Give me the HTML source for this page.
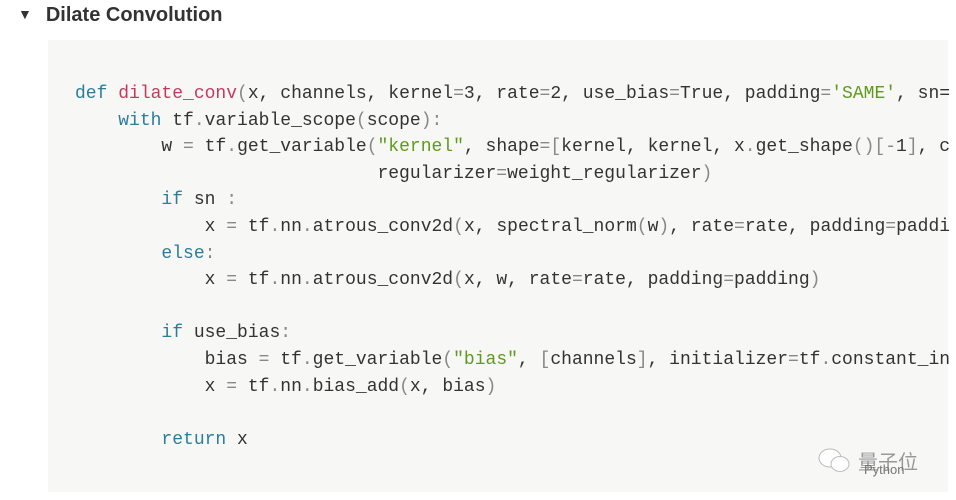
<!DOCTYPE html>
<html><head><meta charset="utf-8"><style>
body{margin:0;width:956px;height:500px;background:#fff;overflow:hidden;position:relative;font-family:"Liberation Sans",sans-serif}
.h{position:absolute;left:18px;top:4px;font-size:20px;font-weight:bold;color:#333}
.h span{font-size:14px;margin-right:14px;position:relative;top:-2px}
.box{position:absolute;left:48px;top:40px;width:900px;height:452px;background:#f7f7f6}
pre{position:absolute;left:75px;top:81px;margin:0;font-family:"Liberation Mono",monospace;font-size:18px;line-height:26.6px;color:#333;white-space:pre}
.k{color:#2b7d9c}.f{color:#c33a5e}.s{color:#5f9a1e}.p{color:#888}
.wm{position:absolute;left:858px;top:446px;color:#999;font-family:"Liberation Sans","Noto Sans CJK SC",sans-serif;font-size:20px}
.wm small{position:absolute;left:6px;top:16px;font-size:13px;color:#777}
</style></head><body>
<div class="h"><span>▼</span>Dilate Convolution</div>
<div class="box"></div>
<pre><span class="k">def</span> <span class="f">dilate_conv</span><span class="p">(</span>x, channels, kernel<span class="p">=</span>3, rate<span class="p">=</span>2, use_bias<span class="p">=</span>True, padding<span class="p">=</span><span class="s">'SAME'</span>, sn=
    <span class="k">with</span> tf<span class="p">.</span>variable_scope<span class="p">(</span>scope<span class="p">):</span>
        w <span class="p">=</span> tf<span class="p">.</span>get_variable<span class="p">(</span><span class="s">"kernel"</span>, shape<span class="p">=[</span>kernel, kernel, x<span class="p">.</span>get_shape<span class="p">()[-</span>1<span class="p">]</span>, c
                            regularizer<span class="p">=</span>weight_regularizer<span class="p">)</span>
        <span class="k">if</span> sn <span class="p">:</span>
            x <span class="p">=</span> tf<span class="p">.</span>nn<span class="p">.</span>atrous_conv2d<span class="p">(</span>x, spectral_norm<span class="p">(</span>w<span class="p">)</span>, rate<span class="p">=</span>rate, padding<span class="p">=</span>paddi
        <span class="k">else</span><span class="p">:</span>
            x <span class="p">=</span> tf<span class="p">.</span>nn<span class="p">.</span>atrous_conv2d<span class="p">(</span>x, w, rate<span class="p">=</span>rate, padding<span class="p">=</span>padding<span class="p">)</span>

        <span class="k">if</span> use_bias<span class="p">:</span>
            bias <span class="p">=</span> tf<span class="p">.</span>get_variable<span class="p">(</span><span class="s">"bias"</span>, <span class="p">[</span>channels<span class="p">]</span>, initializer<span class="p">=</span>tf<span class="p">.</span>constant_in
            x <span class="p">=</span> tf<span class="p">.</span>nn<span class="p">.</span>bias_add<span class="p">(</span>x, bias<span class="p">)</span>

        <span class="k">return</span> x</pre>
<svg style="position:absolute;left:816px;top:446px" width="38" height="30"><ellipse cx="14" cy="12" rx="11" ry="9" fill="#fff" stroke="#bbb"/><ellipse cx="24" cy="18" rx="9" ry="7.5" fill="#fff" stroke="#bbb"/></svg>
<div class="wm">量子位<small>Python</small></div>
</body></html>
